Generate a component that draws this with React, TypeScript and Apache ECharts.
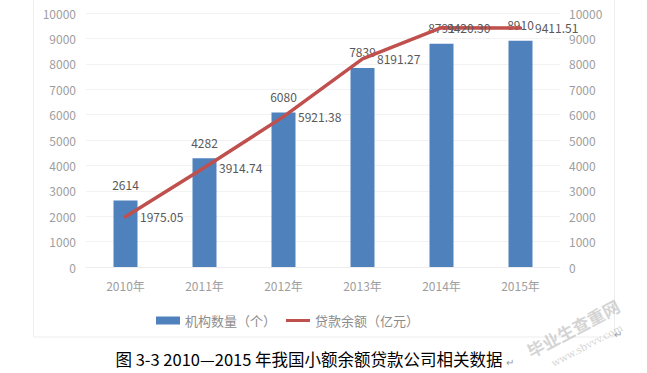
import React, { useEffect, useRef } from "react";
import * as echarts from "echarts";

const categories = ["2010年", "2011年", "2012年", "2013年", "2014年", "2015年"];
const institutionCounts = [2614, 4282, 6080, 7839, 8791, 8910];
const loanBalances = [1975.05, 3914.74, 5921.38, 8191.27, 9420.3, 9411.51];
const seriesNames = ["机构数量（个）", "贷款余额（亿元）"];
const captionText = "图 3-3 2010—2015 年我国小额余额贷款公司相关数据";

const FONT = "'Noto Sans CJK SC', 'Noto Sans', sans-serif";

export default function App() {
  const ref = useRef<HTMLDivElement>(null);
  useEffect(() => {
    if (!ref.current) return;
    const chart = echarts.init(ref.current, undefined, { renderer: "svg" });
    const axisLabel = {
      color: "#9E9E9E",
      fontSize: 12,
      fontFamily: FONT,
      formatter: (v: number) => String(v),
    };
    chart.setOption({
      animation: false,
      backgroundColor: "#fff",
      textStyle: { fontFamily: FONT },
      grid: { left: 86, right: 87, top: 13, bottom: 106 },
      legend: {
        data: [
          { name: seriesNames[0], icon: "rect" },
          {
            name: seriesNames[1],
            icon: "path://M0,0 L24,0 L24,3 L0,3 Z",
            itemStyle: { color: "#C0504D" },
          },
        ],
        left: 151,
        top: 309,
        itemWidth: 24,
        itemHeight: 8,
        itemGap: 10,
        textStyle: { color: "#8C8C8C", fontSize: 13, fontFamily: FONT },
      },
      xAxis: {
        type: "category",
        data: categories,
        axisLine: { show: true, lineStyle: { color: "#EDEDED" } },
        axisTick: { show: false },
        axisLabel: { color: "#9E9E9E", fontSize: 12, fontFamily: FONT, margin: 12 },
      },
      yAxis: [
        {
          type: "value",
          min: 0,
          max: 10000,
          interval: 1000,
          axisLine: { show: false },
          axisTick: { show: false },
          axisLabel: { ...axisLabel, margin: 10 },
          splitLine: { lineStyle: { color: "#F2F2F2" } },
        },
        {
          type: "value",
          min: 0,
          max: 10000,
          interval: 1000,
          position: "right",
          axisLine: { show: false },
          axisTick: { show: false },
          axisLabel: { ...axisLabel, margin: 9 },
          splitLine: { show: false },
        },
      ],
      series: [
        {
          name: seriesNames[0],
          type: "bar",
          data: institutionCounts,
          barWidth: 24,
          itemStyle: { color: "#4F81BD" },
          label: {
            show: true,
            position: "top",
            distance: 10,
            color: "#595959",
            fontSize: 12,
            fontFamily: FONT,
          },
        },
        {
          name: seriesNames[1],
          type: "line",
          yAxisIndex: 1,
          data: loanBalances.map((v, i) =>
            i === 4
              ? { value: v, label: { offset: [-9, 0] } }
              : { value: v }
          ),
          symbol: "circle",
          symbolSize: 1,
          showSymbol: true,
          lineStyle: { color: "#C0504D", width: 3.5, cap: "round" },
          itemStyle: { color: "#C0504D" },
          label: {
            show: true,
            position: "right",
            distance: 14,
            color: "#595959",
            fontSize: 12,
            fontFamily: FONT,
            formatter: (p: any) => Number(p.value).toFixed(2),
          },
        },
      ],
      graphic: [
        {
          type: "rect",
          shape: { x: 33.5, y: -2, width: 581, height: 339 },
          style: { fill: "none", stroke: "#EDEDED", lineWidth: 1 },
          silent: true,
          z: -1,
        },
        {
          type: "text",
          x: 309,
          y: 359,
          style: {
            text: captionText,
            fill: "#000",
            fontSize: 16.5,
            fontFamily: FONT,
            align: "center",
            verticalAlign: "middle",
          },
        },
        {
          type: "text",
          x: 506,
          y: 361,
          style: {
            text: "↵",
            fill: "#999",
            fontSize: 10,
            fontFamily: FONT,
            verticalAlign: "middle",
          },
        },
        {
          type: "text",
          x: 614,
          y: 333,
          style: {
            text: "↵",
            fill: "#999",
            fontSize: 10,
            fontFamily: FONT,
            verticalAlign: "middle",
          },
        },
        {
          type: "text",
          x: 528,
          y: 352,
          rotation: (28 * Math.PI) / 180,
          style: {
            text: "毕业生查重网",
            fill: "rgba(170,170,170,0.5)",
            fontSize: 17,
            fontWeight: "bold",
            fontFamily: FONT,
            verticalAlign: "middle",
          },
        },
        {
          type: "text",
          x: 552,
          y: 364,
          rotation: (28 * Math.PI) / 180,
          style: {
            text: "www.sbvvv.com",
            fill: "rgba(170,170,170,0.5)",
            fontSize: 10,
            fontFamily: "'DejaVu Serif', serif",
            verticalAlign: "middle",
          },
        },
      ],
    });
    return () => chart.dispose();
  }, []);
  return (
    <div
      ref={ref}
      style={{ position: "fixed", left: 0, top: 0, width: 647, height: 373 }}
    />
  );
}
